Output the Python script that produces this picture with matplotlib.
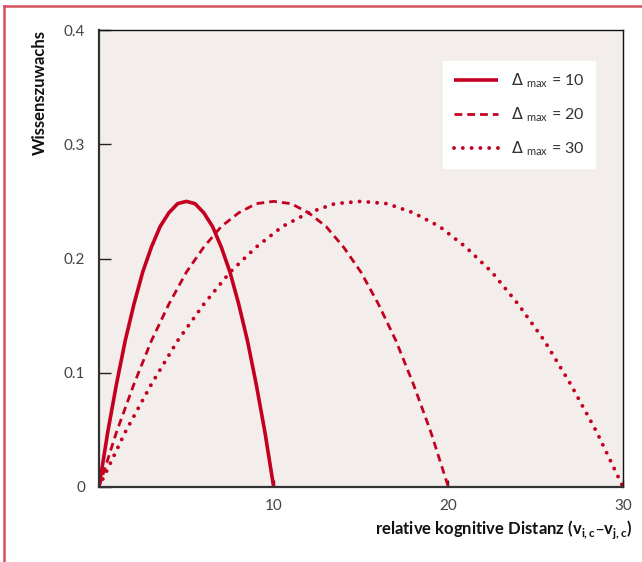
import matplotlib
matplotlib.use("Agg")
import matplotlib.pyplot as plt
from matplotlib.lines import Line2D

plt.rcParams['font.family'] = ['Lato', 'DejaVu Sans']

# Data
x_d10 = [0, 0.5, 1, 1.5, 2, 2.5, 3, 3.5, 4, 4.5, 5, 5.5, 6, 6.5, 7, 7.5, 8, 8.5, 9, 9.5, 10]
y_d10 = [0, 0.048, 0.09, 0.128, 0.16, 0.188, 0.21, 0.228, 0.24, 0.248, 0.25,
         0.248, 0.24, 0.228, 0.21, 0.188, 0.16, 0.128, 0.09, 0.048, 0]
x_d20 = [0, 1, 2, 3, 4, 5, 6, 7, 8, 9, 10, 11, 12, 13, 14, 15, 16, 17, 18, 19, 20]
y_d20 = [0, 0.048, 0.09, 0.128, 0.16, 0.188, 0.21, 0.228, 0.24, 0.248, 0.25,
         0.248, 0.24, 0.228, 0.21, 0.188, 0.16, 0.128, 0.09, 0.048, 0]
x_d30 = [0, 1.5, 3, 4.5, 6, 7.5, 9, 10.5, 12, 13.5, 15, 16.5, 18, 19.5, 21, 22.5, 24, 25.5, 27, 28.5, 30]
y_d30 = [0, 0.048, 0.09, 0.128, 0.16, 0.188, 0.21, 0.228, 0.24, 0.248, 0.25,
         0.248, 0.24, 0.228, 0.21, 0.188, 0.16, 0.128, 0.09, 0.048, 0]

labels = ['10', '20', '30']
x_ticks = [10, 20, 30]
y_ticks = [0, 0.1, 0.2, 0.3, 0.4]
y_tick_labels = ['0', '0.1', '0.2', '0.3', '0.4']

red = '#c40021'
bg = '#f3eeeb'

fig = plt.figure(figsize=(6.42, 5.62), dpi=100)
ax = fig.add_axes([99/642, 1-487/562, (623-99)/642, (487-30)/562])
ax.set_facecolor(bg)

ax.plot(x_d10, y_d10, color=red, lw=2.6, solid_capstyle='butt',
        label=r'$\Delta$ $_{\mathregular{max}}$ = ' + labels[0])
ax.plot(x_d20, y_d20, color=red, lw=2.0, linestyle=(0, (2.8, 1.8)),
        label=r'$\Delta$ $_{\mathregular{max}}$ = ' + labels[1])
ax.plot(x_d30, y_d30, color=red, lw=2.8, linestyle=(0, (0.01, 2.25)),
        dash_capstyle='round', label=r'$\Delta$ $_{\mathregular{max}}$ = ' + labels[2])

ax.set_xlim(0, 30)
ax.set_ylim(0, 0.4)
ax.set_xticks(x_ticks)
ax.set_xticklabels(x_ticks)
ax.set_yticks(y_ticks)
ax.set_yticklabels(y_tick_labels)
ax.tick_params(axis='y', direction='in', length=8.5, width=1, color='#222',
               labelsize=11, labelcolor='#444', pad=10)
ax.tick_params(axis='x', direction='in', length=5, width=1, color='#222',
               labelsize=11, labelcolor='#444', pad=9)

for side in ['left', 'bottom']:
    ax.spines[side].set_color('#333')
    ax.spines[side].set_linewidth(1.6)
for side in ['top', 'right']:
    ax.spines[side].set_color('#111')
    ax.spines[side].set_linewidth(1.0)

fig.text(40/642, 1-30/562, 'Wissenszuwachs', rotation=90, ha='center', va='top',
         fontsize=12, fontweight='bold', color='#111')
fig.text(632/642, 1-530/562,
         r'relative kognitive Distanz (v$_{\mathregular{i,c}}$–v$_{\mathregular{j,c}}$)',
         ha='right', va='center', fontsize=12, fontweight='bold', color='#111')

leg = ax.legend(loc='upper right', frameon=True, fancybox=False,
                fontsize=11.5, handlelength=2.8, labelspacing=0.95,
                borderpad=0.65, handletextpad=0.8, borderaxespad=0)
leg.get_frame().set_facecolor('white')
leg.get_frame().set_edgecolor('white')
leg.get_frame().set_alpha(1)
for t in leg.get_texts():
    t.set_color('#333')
leg.set_bbox_to_anchor((595/642, 1-61/562), transform=fig.transFigure)

# Red frame border on top and left
fig.add_artist(Line2D([4/642, 4/642], [0, 1-6/562], color='#d4505c', lw=1.8,
                      transform=fig.transFigure))
fig.add_artist(Line2D([4/642, 1], [1-6/562, 1-6/562], color='#d4505c', lw=1.8,
                      transform=fig.transFigure))

fig.savefig('out.png', dpi=100)
